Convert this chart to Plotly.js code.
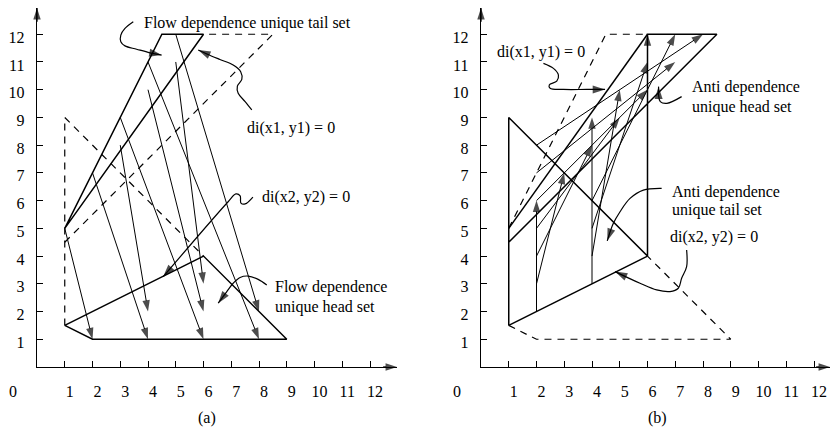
<!DOCTYPE html>
<html>
<head>
<meta charset="utf-8">
<script src="https://cdn.plot.ly/plotly-3.0.1.min.js"></script>
<style>html,body{margin:0;padding:0;background:#fff;}#chart{width:830px;height:427px;}</style>
</head>
<body>
<div id="chart"></div>
<script>
// ---------- data ----------
var tickValues = [1,2,3,4,5,6,7,8,9,10,11,12];
var tickLabels = ["1","2","3","4","5","6","7","8","9","10","11","12"];

// panel (a): flow dependence arrows, tail -> head
var flowTails = [[1,5],[2,7],[3,8],[3,9],[4,10],[4,11],[5,11],[5,12]];
var flowHeads = [[2,1],[4,1],[4,2],[6,1],[6,2],[8,1],[6,3],[8,2]];

// panel (b): anti dependence arrows, tail -> head
var antiTails = [[2,2],[2,3],[2,4],[2,5],[2,6],[2,7],[2,8],[4,3],[4,4],[4,5],[4,6],[6,4]];
var antiHeads = [[2,6],[3,7],[4,8],[5,9],[6,10],[7,11],[8,12],[4,9],[5,10],[6,11],[7,12],[6,12]];

// region boundaries (polylines)
var aSolid = [
  [[1,5],[4.5,12],[6,12],[1,5]],
  [[1,1.5],[2,1],[9,1],[6,4],[1,1.5]]
];
var aDashed = [
  [[1,1.5],[1,9],[6,4]],
  [[1,4.5],[8.5,12],[6,12]]
];
var bSolid = [
  [[1,1.5],[1,9],[6,4],[6,12],[8.5,12],[1,4.5]],
  [[1,1.5],[6,4]],
  [[1,5],[6,12]]
];
var bDashed = [
  [[1,1.5],[2,1],[9,1],[6,4]],
  [[1,5],[4.5,12],[6,12]]
];

// curved callout leaders (ending at the arrow tip)
var aLeaderTail = [[3.47,12.45],[3.17,12.21],[3.02,11.97],[3.02,11.73],[3.17,11.58],[3.59,11.46],[4.07,11.33],[4.49,11.25]];
var aLeaderDi1  = [[7.74,9.27],[7.50,9.57],[7.25,9.87],[7.22,10.13],[7.38,10.37],[7.34,10.65],[7.07,10.89],[6.59,11.09],[6.12,11.29],[5.81,11.43]];
var aLeaderDi2  = [[7.78,6.13],[7.50,5.88],[7.35,5.91],[7.32,6.17],[7.17,6.24],[6.88,5.95],[4.55,3.26]];
var aLeaderHead = [[8.28,2.96],[7.97,3.16],[7.61,3.28],[7.32,3.23],[7.07,3.02],[6.84,2.72],[6.53,2.30]];
var bLeaderDi1  = [[2.25,10.95],[2.61,10.77],[2.79,10.53],[2.73,10.31],[2.46,10.17],[2.49,10.05],[2.97,10.01],[3.81,10.01],[4.47,10.01]];
var bLeaderHead = [[7.23,9.75],[6.70,9.51],[6.46,9.57],[6.40,9.81],[6.40,10.11]];
var bLeaderTail = [[6.51,6.44],[5.85,6.38],[5.37,6.08],[5.01,5.60],[4.77,5.18],[4.55,4.55]];
var bLeaderDi2  = [[7.41,4.22],[7.41,3.62],[7.23,3.20],[7.11,2.84],[6.81,2.72],[6.33,2.78],[5.73,3.02],[4.83,3.44]];

// labels
var aLabels = [
  {t:"Flow dependence unique tail set", px:142, py:23},
  {t:"di(x1, y1) = 0", px:245, py:128},
  {t:"di(x2, y2) = 0", px:260, py:197},
  {t:"Flow dependence", px:273, py:287},
  {t:"unique head set", px:273, py:307}
];
var bLabels = [
  {t:"di(x1, y1) = 0", px:495, py:52},
  {t:"Anti dependence", px:690, py:87},
  {t:"unique head set", px:690, py:107},
  {t:"Anti dependence", px:670, py:192},
  {t:"unique tail set", px:670, py:210},
  {t:"di(x2, y2) = 0", px:668, py:237}
];
var captions = [{t:"(a)", px:207, py:418},{t:"(b)", px:657, py:418},{t:"0", px:13, py:391},{t:"0", px:457, py:391}];

// ---------- build ----------
var W = 830, H = 427;
var FONT = "Liberation Serif, Times New Roman, serif";
var traces = [];

function poly(pts, xa, ya, dash, width){
  traces.push({type:'scatter', mode:'lines', xaxis:xa, yaxis:ya, cliponaxis:false,
    x: pts.map(function(p){return p[0];}), y: pts.map(function(p){return p[1];}),
    line:{color:'#000', width:width, dash:dash}, hoverinfo:'skip'});
}
function arrow(pts, xa, ya, width, size, spline){
  var sizes = pts.map(function(p,i){return i === pts.length-1 ? size : 0;});
  traces.push({type:'scatter', mode:'lines+markers', xaxis:xa, yaxis:ya, cliponaxis:false,
    x: pts.map(function(p){return p[0];}), y: pts.map(function(p){return p[1];}),
    line:{color:'#000', width:width, shape: spline ? 'spline' : 'linear'},
    marker:{symbol:'arrow', size:sizes, angleref:'previous', color:'#000', line:{width:0}},
    hoverinfo:'skip'});
}

var DASH = '7px,6px';
aSolid.forEach(function(p){poly(p,'x','y','solid',1.5);});
aDashed.forEach(function(p){poly(p,'x','y',DASH,1.2);});
bSolid.forEach(function(p){poly(p,'x2','y2','solid',1.5);});
bDashed.forEach(function(p){poly(p,'x2','y2',DASH,1.2);});

flowTails.forEach(function(t,i){arrow([t, flowHeads[i]],'x','y',1,12,false);});
antiTails.forEach(function(t,i){arrow([t, antiHeads[i]],'x2','y2',1,12,false);});

[aLeaderTail,aLeaderDi1,aLeaderDi2,aLeaderHead].forEach(function(p){arrow(p,'x','y',1.2,13,true);});
[bLeaderDi1,bLeaderHead,bLeaderTail,bLeaderDi2].forEach(function(p){arrow(p,'x2','y2',1.2,13,true);});

// axis arrowheads
var xR1 = (397-37)/27.75, xR2 = (830-481)/27.75, yR = (367-8)/27.73;
arrow([[xR1-0.5,0],[xR1,0]],'x','y',1.3,12,false);
arrow([[0,yR-0.5],[0,yR]],'x','y',1.3,12,false);
arrow([[xR2-0.5,0],[xR2,0]],'x2','y2',1.3,12,false);
arrow([[0,yR-0.5],[0,yR]],'x2','y2',1.3,12,false);

var annotations = [];
aLabels.concat(bLabels).forEach(function(l){
  annotations.push({xref:'paper', yref:'paper', x:l.px/W, y:1-l.py/H, text:l.t, showarrow:false,
    xanchor:'left', yanchor:'middle', font:{family:FONT, size:16, color:'#000'}});
});
captions.forEach(function(l){
  annotations.push({xref:'paper', yref:'paper', x:l.px/W, y:1-l.py/H, text:l.t, showarrow:false,
    xanchor:'center', yanchor:'middle', font:{family:FONT, size:16, color:'#000'}});
});

function xaxisDef(dom, rng){
  return {domain:dom, range:rng, showline:true, linecolor:'#000', linewidth:1.3,
    ticks:'inside', ticklen:6, tickwidth:1, tickcolor:'#000',
    tickmode:'array', tickvals:tickValues, ticktext:tickLabels,
    tickfont:{family:FONT, size:16, color:'#000'}, ticklabelstandoff:9, ticklabelshift:5,
    showgrid:false, zeroline:false, fixedrange:true};
}
function yaxisDef(anchor){
  return {domain:[60/H, 1-8/H], range:[0,yR], anchor:anchor, showline:true, linecolor:'#000', linewidth:1.3,
    ticks:'inside', ticklen:6, tickwidth:1, tickcolor:'#000',
    tickmode:'array', tickvals:tickValues, ticktext:tickLabels,
    tickfont:{family:FONT, size:16, color:'#000'}, ticklabelstandoff:8, ticklabelshift:3,
    showgrid:false, zeroline:false, fixedrange:true};
}

var layout = {
  width:W, height:H, margin:{l:0,r:0,t:0,b:0}, showlegend:false,
  paper_bgcolor:'#fff', plot_bgcolor:'#fff',
  xaxis: Object.assign(xaxisDef([37/W, 397/W],[0,xR1]), {anchor:'y'}),
  yaxis: yaxisDef('x'),
  xaxis2: Object.assign(xaxisDef([481/W, 1],[0,xR2]), {anchor:'y2'}),
  yaxis2: yaxisDef('x2'),
  annotations: annotations
};

Plotly.newPlot('chart', traces, layout, {staticPlot:true, displayModeBar:false});
</script>
</body>
</html>
